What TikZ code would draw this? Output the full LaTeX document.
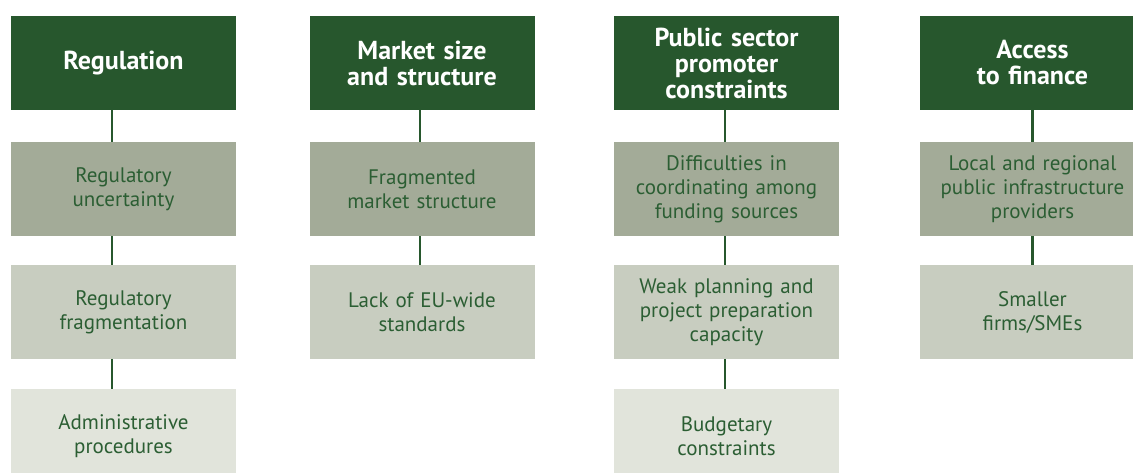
\documentclass[tikz,border=0pt]{standalone}
\usepackage{fontspec}
\setmainfont{PT Sans}
\usepackage{tikz}
\definecolor{hdgreen}{HTML}{27572D}
\definecolor{lvla}{HTML}{A3AB98}
\definecolor{lvlb}{HTML}{C8CDC0}
\definecolor{lvlc}{HTML}{E1E4DB}
\definecolor{txtgreen}{HTML}{2B5E33}
\begin{document}
\begin{tikzpicture}[x=1pt,y=-1pt,
	box/.style={minimum width=225pt,minimum height=94pt,inner sep=0pt,align=center,text width=220pt,
		font=\fontsize{21}{24}\selectfont,text=txtgreen},
	head/.style={box,fill=hdgreen,text=white,font=\fontsize{26}{26}\bfseries},
	lvlone/.style={box,fill=lvla},
	lvltwo/.style={box,fill=lvlb},
	lvlthree/.style={box,fill=lvlc},
	link/.style={hdgreen,line width=2.2pt}]
	\clip (0,0) rectangle (1133,473);
	\fill[white] (0,0) rectangle (1133,473);
	\node[head] (h1) at (123.5,63) {Regulation};
	\node[head] (h2) at (422,63) {Market size\\and structure};
	\node[head] (h3) at (726.5,63) {Public sector\\promoter\\constraints};
	\node[head] (h4) at (1032.5,63) {Access\\to finance};
	\node[lvlone] (a1) at (123.5,189) {Regulatory\\uncertainty};
	\node[lvlone] (a2) at (422,189) {Fragmented\\market structure};
	\node[lvlone] (a3) at (726.5,189) {Difficulties in\\coordinating among\\funding sources};
	\node[lvlone] (a4) at (1032.5,189) {Local and regional\\public infrastructure\\providers};
	\node[lvltwo] (b1) at (123.5,312) {Regulatory\\fragmentation};
	\node[lvltwo] (b2) at (422,312) {Lack of EU-wide\\standards};
	\node[lvltwo] (b3) at (726.5,312) {Weak planning and\\project preparation\\capacity};
	\node[lvltwo] (b4) at (1032.5,312) {Smaller\\firms/SMEs};
	\node[lvlthree] (c1) at (123.5,436) {Administrative\\procedures};
	\node[lvlthree] (c3) at (726.5,436) {Budgetary\\constraints};
	\draw[link] ([xshift=-11.5pt]h1.south) -- ([xshift=-11.5pt]a1.north);
	\draw[link] ([xshift=-11.5pt]a1.south) -- ([xshift=-11.5pt]b1.north);
	\draw[link] ([xshift=-11.5pt]b1.south) -- ([xshift=-11.5pt]c1.north);
	\draw[link] ([xshift=-2pt]h2.south) -- ([xshift=-2pt]a2.north);
	\draw[link] ([xshift=-2pt]a2.south) -- ([xshift=-2pt]b2.north);
	\draw[link] ([xshift=-1.5pt]h3.south) -- ([xshift=-1.5pt]a3.north);
	\draw[link] ([xshift=-1.5pt]a3.south) -- ([xshift=-1.5pt]b3.north);
	\draw[link] ([xshift=-1.5pt]b3.south) -- ([xshift=-1.5pt]c3.north);
	\draw[link] (h4.south) -- (a4.north);
	\draw[link] (a4.south) -- (b4.north);
\end{tikzpicture}
\end{document}
